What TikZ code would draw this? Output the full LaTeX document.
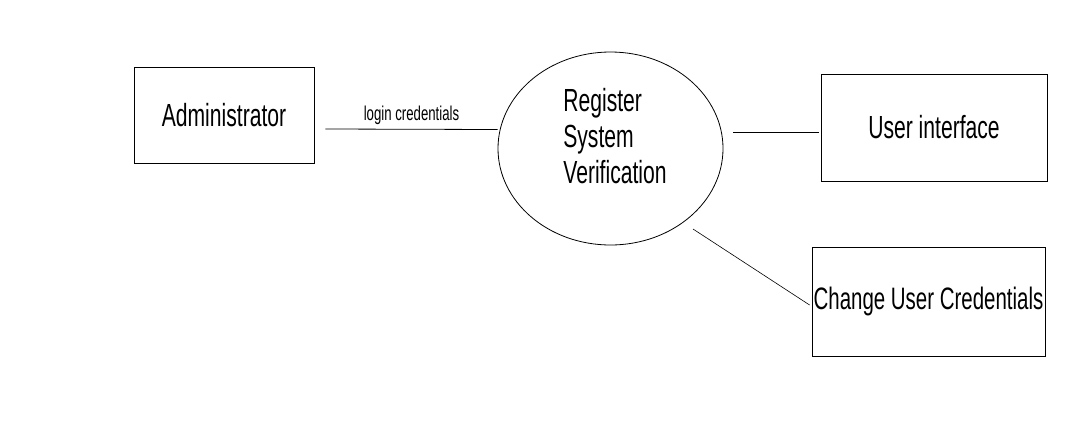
\documentclass[tikz,border=0pt]{standalone}
\usepackage{fontspec}
\setmainfont{Liberation Sans}[FakeStretch=0.66]
\usepackage{tikz}
\usetikzlibrary{
  calc,
  positioning,
  shapes,
}
\tikzstyle{entity} = [
  rectangle,
  draw,
  line width=0.8pt,
  inner sep=0pt,
  font=\fontsize{32}{36}\selectfont,
]
\tikzstyle{process} = [
  ellipse,
  draw,
  line width=0.8pt,
  inner sep=0pt,
]
\tikzstyle{flow} = [
  line width=0.8pt,
  black,
]

\begin{document}
\begin{tikzpicture}[x=1pt,y=-1pt]
			\useasboundingbox (0,0) rectangle (1080,429);

			\node[entity,minimum width=180,minimum height=96] (admin) at (224,115) {Administrator};
			\node[process,minimum width=225,minimum height=193] (rsv) at (610.5,148.5) {};
			\node[align=left,inner sep=0pt,font=\fontsize{32}{36}\selectfont] (rsvtext) at (615,136) {Register\\System\\Verification};
			\node[entity,minimum width=226,minimum height=107] (ui) at (934,127.5) {User interface};
			\node[entity,minimum width=233,minimum height=109,font=\fontsize{31}{36}\selectfont] (cuc) at (928.5,301.5) {Change User Credentials};

			\draw[flow] ([xshift=11pt,yshift=-14pt]admin.east) -- node[above=1pt,font=\fontsize{20}{22}\selectfont] (login) {login credentials} ([yshift=19pt]rsv.west);
			\draw[flow] ([xshift=10pt,yshift=16pt]rsv.east) -- ([xshift=-2pt,yshift=-5pt]ui.west);
			\draw[flow,line width=0.6pt] ([shift={(82.5pt,-80.5pt)}]rsv.center) -- ([shift={(-2pt,-3.5pt)}]cuc.west);
		\end{tikzpicture}
\end{document}
